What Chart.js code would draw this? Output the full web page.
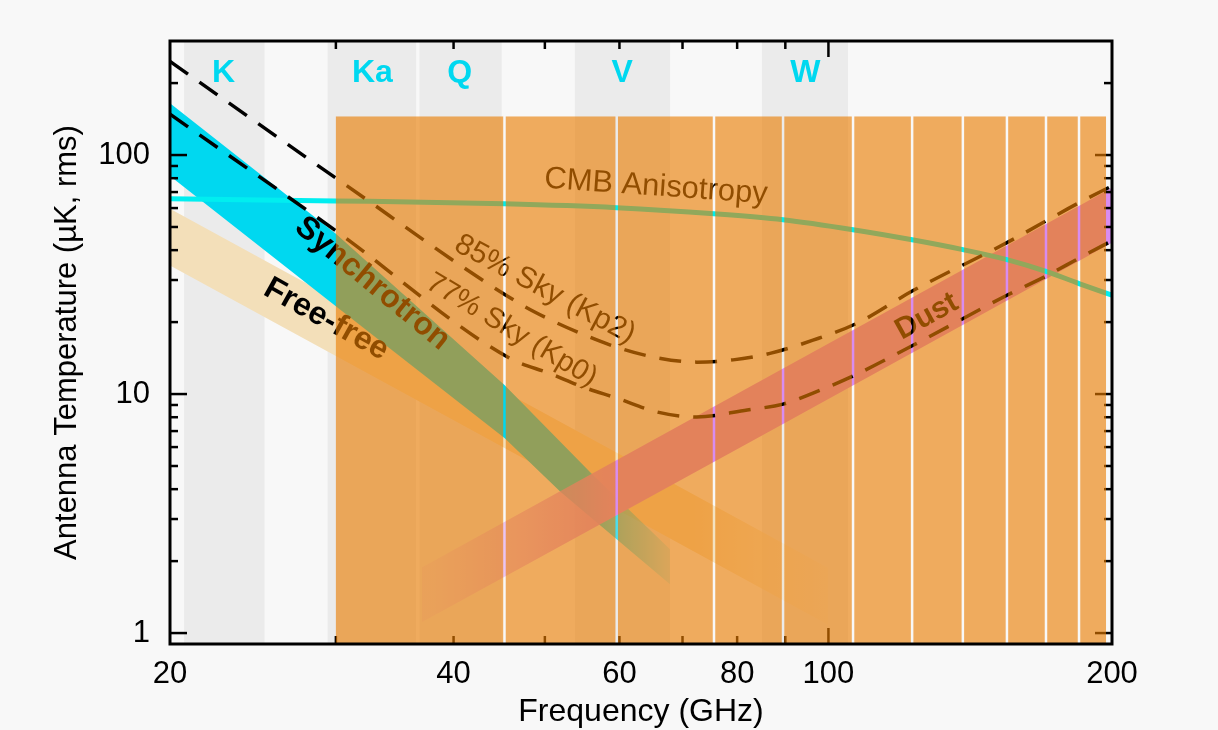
<!DOCTYPE html>
<html lang="en">
<head>
<meta charset="UTF-8">
<title>Foreground spectra</title>
<script src="https://cdn.jsdelivr.net/npm/chart.js"></script>
<style>
  html, body { margin: 0; padding: 0; background: #f8f8f8; }
  canvas { display: block; }
</style>
</head>
<body>
<canvas id="chart" width="1218" height="730"></canvas>
<script>
// axis ranges and ticks
const freqRange = [20, 200];
const tempRange = [0.9, 300];
const xTickLabels = [20, 40, 60, 80, 100, 200];
const yTickLabels = [1, 10, 100];
const xMinorTicks = [30, 40, 50, 60, 70, 80, 90];
const xMajorTicks = [100];
const yMinorTicks = [2, 3, 4, 5, 6, 7, 8, 9, 20, 30, 40, 50, 60, 70, 80, 90, 200];
const yMajorTicks = [1, 10, 100];

// WMAP bands (GHz)
const bandNames = ['K', 'Ka', 'Q', 'V', 'W'];
const bandLow = [20.7, 29.4, 36.8, 53.8, 85.0];
const bandHigh = [25.2, 36.5, 45.0, 67.9, 104.9];
const bandCentre = [22.8, 32.8, 40.6, 60.4, 94.5];
const bandLabelTemp = 220;

// CMB anisotropy
const cmbFreq = [20, 30, 45.3, 59.6, 75.6, 89.5, 106.2, 122.7, 138.9, 154.7, 170.2, 184.5, 200];
const cmbTemp = [65.6, 64.3, 62.5, 60.2, 56.8, 53.6, 48.7, 44.2, 40.2, 36.5, 32.6, 29.0, 25.9];

// synchrotron band edges
const synchHiFreq = [20, 30, 45.3, 56.2, 67.9];
const synchHiTemp = [164.7, 46.9, 10.9, 4.6, 2.24];
const synchLoFreq = [20, 30, 45.3, 51.9, 67.9];
const synchLoTemp = [81.7, 23.3, 6.55, 3.91, 1.6];

// free-free band edges
const ffFreq = [20, 45, 100];
const ffHiTemp = [59.6, 10.4, 1.87];
const ffLoTemp = [34.5, 6.04, 1.08];

// dust band edges
const dustFreq = [37, 89.5, 200];
const dustHiTemp = [1.88, 12.8, 72.9];
const dustLoTemp = [1.11, 7.5, 43.0];

// sky-cut curves
const kp2Freq = [20, 30.1, 47.0, 50.6, 55.2, 59.6, 65.1, 72.5, 79.2, 86.7, 96.3, 107.3, 123.0, 154.7, 183.6, 200];
const kp2Temp = [246.4, 79.4, 23.9, 20.5, 17.6, 15.7, 14.3, 13.6, 13.9, 14.8, 16.8, 19.8, 27.1, 43.0, 62.5, 74.3];
const kp0Freq = [20, 30.0, 45.9, 50.6, 54.9, 59.6, 65.8, 72.5, 82.0, 89.5, 96.3, 106.2, 123.0, 154.7, 170.6, 184.9, 200];
const kp0Temp = [148.2, 48.2, 14.1, 12.2, 10.7, 9.62, 8.41, 8.02, 8.58, 9.08, 10.1, 11.9, 16.0, 25.9, 31.3, 37.2, 43.8];

// in-plot labels
const labelText = ['CMB Anisotropy', 'Synchrotron', 'Free-free', 'Dust', '85% Sky (Kp2)', '77% Sky (Kp0)'];
const labelFreq = [65.6, 32.8, 29.3, 127.2, 50.0, 46.1];
const labelTemp = [73.6, 29.0, 20.5, 21.1, 27.4, 18.5];

// overlay strips
const stripEdges = [30, 45.3, 59.6, 75.6, 89.5, 106.2, 122.7, 138.9, 154.7, 170.2, 184.5, 197.1];
const overlayTop = 145;

// ---- styles ----
const FONT = '"Liberation Sans", Arial, sans-serif';
const labelStyle = [
  { angle: 4, weight: '', size: 31 },
  { angle: 39.5, weight: 'bold ', size: 32 },
  { angle: 29, weight: 'bold ', size: 32 },
  { angle: -29, weight: 'bold ', size: 30 },
  { angle: 28, weight: '', size: 30 },
  { angle: 31, weight: '', size: 29 }
];

const pts = (xs, ys) => xs.map((x, i) => ({ x: x, y: ys[i] }));

// horizontal fade of a band colour between two frequencies
function fade(rgb, fromF, toF, fromA, toA) {
  return ctx => {
    const chart = ctx.chart, xs = chart.scales.x;
    if (!xs || !chart.chartArea) return 'rgb(' + rgb + ')';
    const g = chart.ctx.createLinearGradient(xs.getPixelForValue(fromF), 0, xs.getPixelForValue(toF), 0);
    g.addColorStop(0, 'rgba(' + rgb + ',' + fromA + ')');
    g.addColorStop(1, 'rgba(' + rgb + ',' + toA + ')');
    return g;
  };
}

const edge = { pointRadius: 0, borderWidth: 0, fill: false };
const dashed = { borderColor: '#000', borderWidth: 3.5, borderDash: [22, 14],
  cubicInterpolationMode: 'monotone', pointRadius: 0, fill: false };

const datasets = [
  Object.assign({ data: pts(kp2Freq, kp2Temp) }, dashed),
  Object.assign({ data: pts(kp0Freq, kp0Temp) }, dashed),
  { data: pts(cmbFreq, cmbTemp), borderColor: '#00eef0', borderWidth: 5,
    cubicInterpolationMode: 'monotone', pointRadius: 0, fill: false },
  Object.assign({ data: pts(dustFreq, dustHiTemp) }, edge,
    { fill: '+1', backgroundColor: fade('216,140,240', 38, 60, 0.15, 1) }),
  Object.assign({ data: pts(dustFreq, dustLoTemp) }, edge),
  Object.assign({ data: pts(synchHiFreq, synchHiTemp) }, edge,
    { fill: '+1', backgroundColor: fade('0,216,240', 55, 69, 1, 0.1) }),
  Object.assign({ data: pts(synchLoFreq, synchLoTemp) }, edge),
  Object.assign({ data: pts(ffFreq, ffHiTemp) }, edge,
    { fill: '+1', backgroundColor: fade('243,223,185', 72, 102, 1, 0.1) }),
  Object.assign({ data: pts(ffFreq, ffLoTemp) }, edge)
];

const framePlugin = {
  id: 'frame',
  beforeDraw(chart) {
    const c = chart.ctx;
    c.save();
    c.fillStyle = '#f8f8f8';
    c.fillRect(0, 0, chart.width, chart.height);
    c.restore();
  },
  beforeDatasetsDraw(chart) {
    const c = chart.ctx, a = chart.chartArea, xs = chart.scales.x;
    c.save();
    c.fillStyle = '#ebebeb';
    bandLow.forEach((lo, i) => {
      const x0 = xs.getPixelForValue(lo), x1 = xs.getPixelForValue(bandHigh[i]);
      c.fillRect(x0, a.top, x1 - x0, a.bottom - a.top);
    });
    c.restore();
  },
  afterDatasetsDraw(chart) {
    const c = chart.ctx, a = chart.chartArea, xs = chart.scales.x, ys = chart.scales.y;
    c.save();
    c.beginPath();
    c.rect(a.left, a.top, a.right - a.left, a.bottom - a.top);
    c.clip();

    // text labels
    c.fillStyle = '#000';
    c.textAlign = 'center';
    c.textBaseline = 'middle';
    labelText.forEach((t, i) => {
      const s = labelStyle[i];
      c.save();
      c.translate(xs.getPixelForValue(labelFreq[i]), ys.getPixelForValue(labelTemp[i]));
      c.rotate(s.angle * Math.PI / 180);
      c.font = s.weight + s.size + 'px ' + FONT;
      c.fillText(t, 0, 0);
      c.restore();
    });

    // tick marks on all four sides
    c.strokeStyle = '#000';
    c.lineWidth = 2.5;
    const tick = (x0, y0, x1, y1) => { c.beginPath(); c.moveTo(x0, y0); c.lineTo(x1, y1); c.stroke(); };
    const xt = (v, len) => {
      const p = xs.getPixelForValue(v);
      tick(p, a.bottom, p, a.bottom - len);
      tick(p, a.top, p, a.top + len);
    };
    const yt = (v, len) => {
      const p = ys.getPixelForValue(v);
      tick(a.left, p, a.left + len, p);
      tick(a.right, p, a.right - len, p);
    };
    xMinorTicks.forEach(v => xt(v, 8));
    xMajorTicks.forEach(v => xt(v, 16));
    yMinorTicks.forEach(v => yt(v, 8));
    yMajorTicks.forEach(v => yt(v, 17));

    // translucent orange strips
    c.fillStyle = 'rgba(234,124,0,0.62)';
    const yTop = ys.getPixelForValue(overlayTop);
    for (let i = 0; i < stripEdges.length - 1; i++) {
      let x0 = xs.getPixelForValue(stripEdges[i]);
      let x1 = xs.getPixelForValue(stripEdges[i + 1]);
      if (i > 0) x0 += 1.25;
      if (i < stripEdges.length - 2) x1 -= 1.25;
      c.fillRect(x0, yTop, x1 - x0, a.bottom - yTop);
    }
    c.restore();

    // frame
    c.save();
    c.strokeStyle = '#000';
    c.lineWidth = 3;
    c.strokeRect(a.left, a.top, a.right - a.left, a.bottom - a.top);

    // band names
    c.fillStyle = '#00d8f0';
    c.font = 'bold 32px ' + FONT;
    c.textAlign = 'center';
    c.textBaseline = 'middle';
    bandNames.forEach((n, i) => {
      c.fillText(n, xs.getPixelForValue(bandCentre[i]), ys.getPixelForValue(bandLabelTemp));
    });
    c.restore();
  }
};

new Chart(document.getElementById('chart'), {
  type: 'line',
  data: { datasets: datasets },
  options: {
    responsive: false,
    animation: false,
    layout: { padding: { left: 0, top: 41, right: 106, bottom: 0 } },
    plugins: { legend: { display: false }, tooltip: { enabled: false } },
    scales: {
      x: {
        type: 'logarithmic',
        min: freqRange[0], max: freqRange[1],
        afterBuildTicks: s => { s.ticks = xTickLabels.map(v => ({ value: v })); },
        afterFit: s => { s.height = 86; },
        grid: { display: false, drawTicks: false },
        border: { display: false },
        ticks: {
          autoSkip: false, maxRotation: 0, padding: 12, color: '#000',
          font: { family: FONT, size: 31 },
          callback: v => String(v)
        },
        title: {
          display: true, text: 'Frequency (GHz)', color: '#000',
          font: { family: FONT, size: 32, lineHeight: 1 },
          padding: { top: 0, bottom: 2 }
        }
      },
      y: {
        type: 'logarithmic',
        min: tempRange[0], max: tempRange[1],
        afterBuildTicks: s => { s.ticks = yTickLabels.map(v => ({ value: v })); },
        afterFit: s => { s.width = 170; },
        grid: { display: false, drawTicks: false },
        border: { display: false },
        ticks: {
          autoSkip: false, padding: 20, color: '#000',
          font: { family: FONT, size: 31 },
          callback: v => String(v)
        },
        title: {
          display: true, text: 'Antenna Temperature (\u00b5K, rms)', color: '#000',
          font: { family: FONT, size: 31, lineHeight: 1 },
          padding: { top: 52, bottom: 0 }
        }
      }
    }
  },
  plugins: [framePlugin]
});
</script>
</body>
</html>
